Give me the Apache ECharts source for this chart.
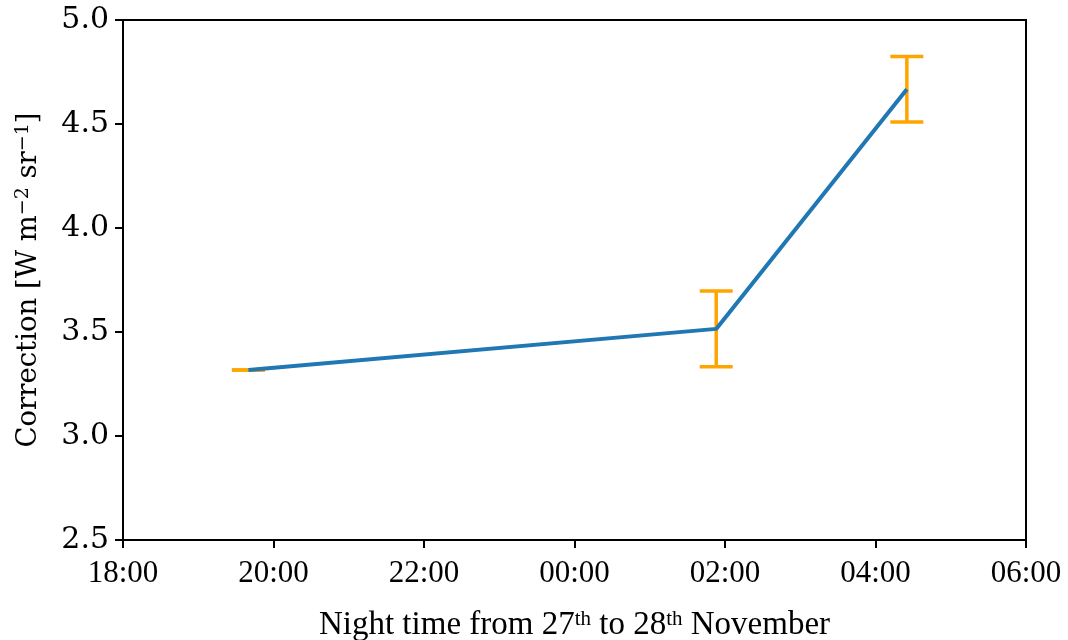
<!DOCTYPE html>
<html>
<head>
<meta charset="utf-8">
<script src="https://cdn.jsdelivr.net/npm/echarts@6/dist/echarts.min.js"></script>
<style>
  html, body { margin: 0; padding: 0; background: #fff; }
  #chart { width: 1068px; height: 640px; }
</style>
</head>
<body>
<div id="chart"></div>
<script>
// Measurement times (local clock, night of 27th to 28th November)
const times = ['19:40', '01:53', '04:25'];
// Correction values [W m^-2 sr^-1]
const corrections = [3.317, 3.515, 4.667];
// Half-width of uncertainty for each measurement
const errors = [0.0, 0.182, 0.157];
// X axis ticks in hours (18:00 start, continuing past midnight)
const xTickStart = 18;
const xTickEnd = 30;
const xTickStep = 2;
// Y axis range
const yMin = 2.5, yMax = 5.0, yStep = 0.5;

// Convert a clock time into hours on a continuous night-time scale
function toNightHours(t) {
  const [h, m] = t.split(':').map(Number);
  let v = h + m / 60;
  if (v < 12) v += 24;
  return v;
}

const linePoints = times.map((t, i) => [toNightHours(t), corrections[i]]);
const errPoints = times.map((t, i) => [toNightHours(t), corrections[i] - errors[i], corrections[i] + errors[i]]);

const serif = 'Liberation Serif';
const tickFont = 'DejaVu Serif';

const chart = echarts.init(document.getElementById('chart'), null, { renderer: 'canvas' });

chart.setOption({
  animation: false,
  backgroundColor: '#ffffff',
  grid: {
    left: 123, right: 42, top: 20, bottom: 100,
    containLabel: false,
    outerBoundsMode: 'none',
    show: true, borderColor: '#000', borderWidth: 2, backgroundColor: 'transparent'
  },
  xAxis: {
    type: 'value',
    min: xTickStart, max: xTickEnd, interval: xTickStep,
    axisLine: { onZero: false, lineStyle: { color: '#000', width: 2 } },
    axisTick: { show: true, length: 8, lineStyle: { color: '#000', width: 2 } },
    splitLine: { show: false },
    axisLabel: {
      color: '#000', fontFamily: serif, fontSize: 31, margin: 18,
      formatter: v => String(v % 24).padStart(2, '0') + ':00'
    },
    name: 'Night time from 27{sup|th} to 28{sup|th} November',
    nameLocation: 'middle',
    nameGap: 69,
    nameTextStyle: {
      color: '#000', fontFamily: serif, fontSize: 33,
      rich: {
        sup: { fontFamily: serif, fontSize: 21, verticalAlign: 'top', lineHeight: 33, padding: [0, 0, 13, 0] }
      }
    }
  },
  yAxis: {
    type: 'value',
    min: yMin, max: yMax, interval: yStep,
    axisLine: { onZero: false, lineStyle: { color: '#000', width: 2 } },
    axisTick: { show: true, length: 8, lineStyle: { color: '#000', width: 2 } },
    splitLine: { show: false },
    axisLabel: {
      color: '#000', fontFamily: tickFont, fontSize: 30, margin: 14,
      formatter: v => v.toFixed(1)
    },
    name: 'Correction [W m{sup|\u22122} sr{sup|\u22121}]',
    nameLocation: 'middle',
    nameGap: 79,
    nameRotate: 90,
    nameTextStyle: {
      color: '#000', fontFamily: tickFont, fontSize: 27.5,
      rich: {
        sup: { fontFamily: tickFont, fontSize: 19, verticalAlign: 'top', lineHeight: 30, padding: [0, 0, 13, 0] }
      }
    }
  },
  series: [
    {
      type: 'custom',
      name: 'uncertainty',
      z: 2,
      data: errPoints,
      renderItem: function (params, api) {
        const x = api.value(0);
        const lo = api.coord([x, api.value(1)]);
        const hi = api.coord([x, api.value(2)]);
        const cap = 16.5;
        const style = { stroke: '#FFA500', lineWidth: 3.5, fill: null };
        return {
          type: 'group',
          children: [
            { type: 'line', shape: { x1: lo[0], y1: lo[1], x2: hi[0], y2: hi[1] }, style },
            { type: 'line', shape: { x1: lo[0] - cap, y1: lo[1], x2: lo[0] + cap, y2: lo[1] }, style },
            { type: 'line', shape: { x1: hi[0] - cap, y1: hi[1], x2: hi[0] + cap, y2: hi[1] }, style }
          ]
        };
      }
    },
    {
      type: 'line',
      name: 'correction',
      z: 3,
      data: linePoints,
      showSymbol: false,
      symbol: 'none',
      lineStyle: { color: '#1f77b4', width: 4 }
    }
  ]
});
</script>
</body>
</html>
